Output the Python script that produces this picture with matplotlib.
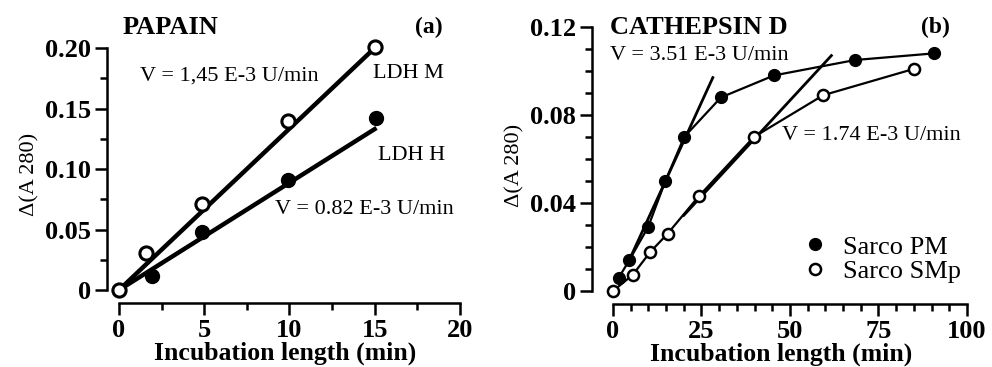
import matplotlib
matplotlib.use('Agg')
import matplotlib.pyplot as plt
import numpy as np
from matplotlib.lines import Line2D
from matplotlib.ticker import FixedLocator

plt.rcParams['font.family'] = ['Liberation Serif', 'DejaVu Serif']

# panel (a): papain
pap_t_m = [0, 1.6, 4.9, 9.9, 15.05]
pap_m = [0, 0.031, 0.071, 0.140, 0.201]
pap_t_h = [1.95, 4.9, 9.9, 15.1]
pap_h = [0.012, 0.048, 0.091, 0.142]
fit_m_x = [0, 15]
fit_m_y = [0, 0.200]
fit_h_x = [0, 15]
fit_h_y = [0, 0.133]

# panel (b): cathepsin D
cat_t_pm = [1.6, 4.6, 9.9, 14.8, 20.1, 30.5, 45.5, 68.4, 90.6]
cat_pm = [0.006, 0.014, 0.029, 0.050, 0.070, 0.088, 0.098, 0.105, 0.108]
cat_t_smp = [0, 5.6, 10.5, 15.4, 24.2, 39.8, 59.4, 85.1]
cat_smp = [0, 0.0074, 0.0177, 0.026, 0.043, 0.070, 0.089, 0.101]
tan_pm_x = [4, 28.2]
tan_pm_y = [0.012, 0.097]
tan_smp_x = [20, 61.7]
tan_smp_y = [0.0344, 0.107]

fig = plt.figure(figsize=(9.92, 3.67), dpi=100)
ax1 = fig.add_axes([0.1079, 0.1744, 0.3591, 0.7013])
ax2 = fig.add_axes([0.5968, 0.1717, 0.3815, 0.7577])

def style(ax):
    for s in ['top', 'right']:
        ax.spines[s].set_visible(False)
    for s in ['left', 'bottom']:
        ax.spines[s].set_linewidth(1.8)
    ax.tick_params(which='major', direction='out', length=8.5, width=1.8,
                   labelsize=19)
    ax.tick_params(which='minor', direction='out', length=5, width=1.8)
    ax.tick_params(axis='y', which='major', pad=3)
    ax.tick_params(axis='x', which='major', pad=3)
    for lab in ax.get_xticklabels() + ax.get_yticklabels():
        lab.set_fontweight('bold')
    ax.set_xlabel('Incubation length (min)', fontsize=18.5, fontweight='bold',
                  labelpad=0)

# ---- (a)
ax1.plot(fit_m_x, fit_m_y, color='black', lw=3.2, zorder=2)
ax1.plot(fit_h_x, fit_h_y, color='black', lw=3.2, zorder=2)
ax1.plot(pap_t_h, pap_h, 'o', color='black', ms=10, zorder=3, clip_on=False)
ax1.plot(pap_t_m, pap_m, 'o', mfc='white', mec='black', mew=2.2, ms=9.5,
         zorder=4, clip_on=False)
ax1.set_xlim(-0.7, 20.2)
ax1.set_ylim(-0.0107, 0.202)
ax1.spines['bottom'].set_bounds(0, 20)
ax1.spines['left'].set_bounds(0, 0.2)
ax1.set_xticks([0, 5, 10, 15, 20])
ax1.set_yticks([0, 0.05, 0.10, 0.15, 0.20])
ax1.set_yticklabels(['0', '0.05', '0.10', '0.15', '0.20'])
ax1.xaxis.set_minor_locator(FixedLocator(np.arange(2.5, 20, 5)))
ax1.yaxis.set_minor_locator(FixedLocator(np.arange(0.025, 0.2, 0.05)))
style(ax1)
ax1.set_ylabel('Δ(A 280)', fontsize=16, labelpad=4)

fig.text(123 / 992, 1 - 27 / 367, 'PAPAIN', fontsize=19, fontweight='bold',
         va='center')
fig.text(443 / 992, 1 - 27 / 367, '(a)', fontsize=17, fontweight='bold',
         va='center', ha='right')
fig.text(140 / 992, 1 - 76 / 367, 'V = 1,45 E-3 U/min', fontsize=16,
         va='center')
fig.text(373 / 992, 1 - 73 / 367, 'LDH M', fontsize=16, va='center')
fig.text(378 / 992, 1 - 155 / 367, 'LDH H', fontsize=16, va='center')
fig.text(275 / 992, 1 - 210 / 367, 'V = 0.82 E-3 U/min', fontsize=16,
         va='center')

# ---- (b)
ax2.plot(cat_t_pm, cat_pm, '-', color='black', lw=1.6, zorder=2)
ax2.plot(cat_t_smp, cat_smp, '-', color='black', lw=1.6, zorder=2)
ax2.plot(tan_pm_x, tan_pm_y, '-', color='black', lw=2, zorder=2)
ax2.plot(tan_smp_x, tan_smp_y, '-', color='black', lw=2, zorder=2)
ax2.plot(cat_t_pm, cat_pm, 'o', color='black', ms=8.5, zorder=3,
         clip_on=False)
ax2.plot(cat_t_smp, cat_smp, 'o', mfc='white', mec='black', mew=1.8, ms=8,
         zorder=4, clip_on=False)
ax2.set_xlim(-5.93, 101)
ax2.set_ylim(-0.0059, 0.1205)
ax2.spines['bottom'].set_bounds(0, 100)
ax2.spines['left'].set_bounds(0, 0.12)
ax2.set_xticks([0, 25, 50, 75, 100])
ax2.set_yticks([0, 0.04, 0.08, 0.12])
ax2.set_yticklabels(['0', '0.04', '0.08', '0.12'])
ax2.xaxis.set_minor_locator(FixedLocator([v for v in range(5, 100, 5) if v % 25]))
ax2.yaxis.set_minor_locator(FixedLocator([0.01, 0.02, 0.03, 0.05, 0.06, 0.07,
                                          0.09, 0.10, 0.11]))
style(ax2)
ax2.set_ylabel('Δ(A 280)', fontsize=16, labelpad=4)

fig.text(610 / 992, 1 - 27 / 367, 'CATHEPSIN D', fontsize=19,
         fontweight='bold', va='center')
fig.text(950 / 992, 1 - 27 / 367, '(b)', fontsize=17, fontweight='bold',
         va='center', ha='right')
fig.text(610 / 992, 1 - 55 / 367, 'V = 3.51 E-3 U/min', fontsize=16,
         va='center')
fig.text(782 / 992, 1 - 135 / 367, 'V = 1.74 E-3 U/min', fontsize=16,
         va='center')

handles = [Line2D([], [], ls='none', marker='o', color='black', ms=8.5),
           Line2D([], [], ls='none', marker='o', mfc='white', mec='black',
                  mew=1.8, ms=8)]
ax2.legend(handles, ['Sarco PM', 'Sarco SMp'], loc='upper left',
           bbox_to_anchor=(786 / 992, 1 - 222 / 367),
           bbox_transform=fig.transFigure, frameon=False, fontsize=19,
           borderpad=0, handlelength=1.2, handletextpad=0.45,
           labelspacing=0.05)

fig.savefig('out.png', dpi=100)
